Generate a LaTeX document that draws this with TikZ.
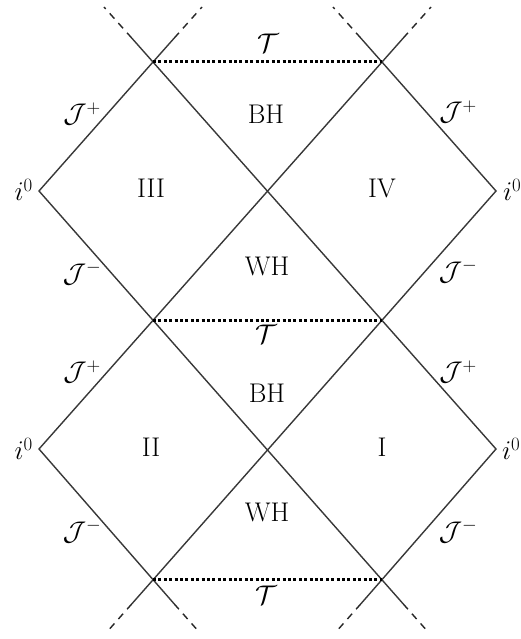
\RequirePackage{fix-cm}
\documentclass[tikz,border=0pt]{standalone}
\usetikzlibrary{calc}
\begin{document}
\begin{tikzpicture}[x=1pt,y=-1pt,
  edge/.style={draw=black!78,line width=1.4pt},
  ext/.style={draw=black!85,line width=1.4pt,dash pattern=on 7pt off 6pt},
  horizon/.style={draw=black,line width=3pt,dash pattern=on 3pt off 2.4pt},
  lbl/.style={inner sep=0pt,font=\fontsize{27}{32}\selectfont}]
\useasboundingbox (0,0) rectangle (521,639);
% vertices
\coordinate (TL) at (153,62);
\coordinate (TR) at (382,62);
\coordinate (L1) at (39,191);
\coordinate (C1) at (267.5,191);
\coordinate (R1) at (496,191);
\coordinate (ML) at (153,320);
\coordinate (MR) at (382,320);
\coordinate (L2) at (39,449);
\coordinate (C2) at (267.5,449);
\coordinate (R2) at (496,449);
\coordinate (BL) at (153,579);
\coordinate (BR) at (382,579);
% extension points (solid part and dashed part)
\coordinate (TLa1) at (131.7,38); \coordinate (TLa2) at (104,7);
\coordinate (TLb1) at (174.3,38); \coordinate (TLb2) at (202,7);
\coordinate (TRa1) at (360.7,38); \coordinate (TRa2) at (333,7);
\coordinate (TRb1) at (403.3,38); \coordinate (TRb2) at (431,7);
\coordinate (BLa1) at (131.7,604); \coordinate (BLa2) at (106,633);
\coordinate (BLb1) at (174.3,604); \coordinate (BLb2) at (200,633);
\coordinate (BRa1) at (360.7,604); \coordinate (BRa2) at (335,633);
\coordinate (BRb1) at (403.3,604); \coordinate (BRb2) at (429,633);
% solid diagonals
\draw[edge] (TLb1) -- (TL) -- (L1) -- (BRb1);
\draw[edge] (TLa1) -- (R2) -- (BRa1);
\draw[edge] (TRb1) -- (L2) -- (BLb1);
\draw[edge] (TRa1) -- (R1) -- (BLa1);
% dashed continuations
\draw[ext] (TLa1) -- (TLa2);
\draw[ext] (TLb1) -- (TLb2);
\draw[ext] (TRa1) -- (TRa2);
\draw[ext] (TRb1) -- (TRb2);
\draw[ext] (BLa1) -- (BLa2);
\draw[ext] (BLb1) -- (BLb2);
\draw[ext] (BRa1) -- (BRa2);
\draw[ext] (BRb1) -- (BRb2);
% horizons
\draw[horizon] (TL) -- (TR);
\draw[horizon] (ML) -- (MR);
\draw[horizon] (BL) -- (BR);
% labels
\node[lbl] (t1) at (268,43) {$\mathcal{T}$};
\node[lbl] (t2) at (266,334) {$\mathcal{T}$};
\node[lbl] (t3) at (266,595) {$\mathcal{T}$};
\node[lbl] (bh1) at (266,114) {BH};
\node[lbl] (wh1) at (267,266) {WH};
\node[lbl] (bh2) at (267,393) {BH};
\node[lbl] (wh2) at (267,512) {WH};
\node[lbl] (r3) at (151,188) {III};
\node[lbl] (r4) at (382,188) {IV};
\node[lbl] (r2) at (151,447) {II};
\node[lbl] (r1) at (382,447) {I};
\node[lbl] (jp1) at (82,114) {$\mathcal{J}^+$};
\node[lbl] (jm1) at (82,273) {$\mathcal{J}^-$};
\node[lbl] (jp2) at (82,372) {$\mathcal{J}^+$};
\node[lbl] (jm2) at (82,531) {$\mathcal{J}^-$};
\node[lbl] (jp3) at (458,112) {$\mathcal{J}^+$};
\node[lbl] (jm3) at (458,271) {$\mathcal{J}^-$};
\node[lbl] (jp4) at (458,372) {$\mathcal{J}^+$};
\node[lbl] (jm4) at (458,531) {$\mathcal{J}^-$};
\node[lbl,anchor=east] (i1) at (33,190) {$i^0$};
\node[lbl,anchor=east] (i2) at (33,449) {$i^0$};
\node[lbl,anchor=west] (i3) at (503,190) {$i^0$};
\node[lbl,anchor=west] (i4) at (502,449) {$i^0$};
\end{tikzpicture}
\end{document}
